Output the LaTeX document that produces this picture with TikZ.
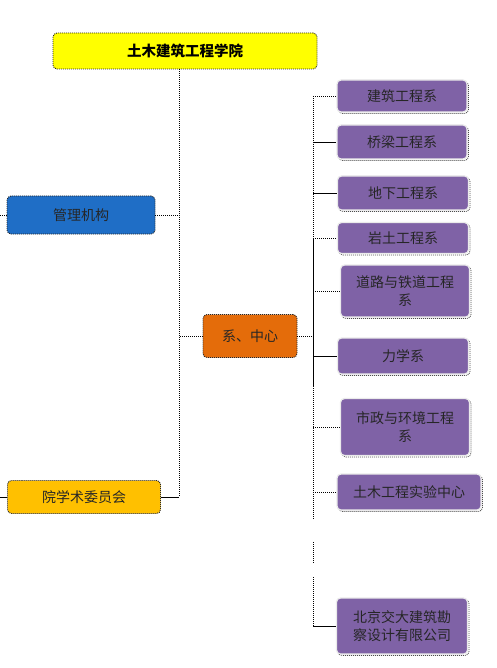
\documentclass[tikz,border=0pt]{standalone}
\usepackage{fontspec}
\newfontfamily\cjk{Noto Sans CJK SC}
\usetikzlibrary{positioning,shadows}
\definecolor{titleyellow}{HTML}{FFFF00}
\definecolor{mgmtblue}{HTML}{1F6EC6}
\definecolor{deptorange}{HTML}{E46C0A}
\definecolor{acadgold}{HTML}{FFC000}
\definecolor{unitpurple}{HTML}{7F62A6}
\tikzset{
  box/.style={draw=black!85, dash pattern=on 1pt off 1pt, line width=0.9pt,
    rounded corners=4pt, align=center, inner sep=0pt, text=black!85,
    font=\cjk\fontsize{14}{18}\selectfont},
  topbox/.style={box, fill=titleyellow, text=black,
    font=\cjk\bfseries\fontsize{14.5}{17}\selectfont},
  sidebox/.style={box},
  unit/.style={box, fill=unitpurple, draw=white!92!black, solid, line width=1.2pt,
    copy shadow={shadow xshift=1.5pt, shadow yshift=-1.5pt, fill=white,
      draw=black!70, dash pattern=on 1pt off 1pt, line width=0.8pt}},
  link/.style={draw=black, line width=0.9pt, dash pattern=on 1pt off 1pt},
  solidlink/.style={draw=black, line width=0.9pt, solid}
}
\begin{document}
\begin{tikzpicture}[x=1pt,y=-1pt]
  \useasboundingbox[fill=white] (0,0) rectangle (496,668);

  % college and its three branches
  \node[topbox, minimum width=264, minimum height=36] (college) at (185,51) {土木建筑工程学院};
  \node[sidebox, fill=mgmtblue, minimum width=148, minimum height=38] (mgmt) at (81,215) {管理机构};
  \node[sidebox, fill=deptorange, minimum width=94, minimum height=43] (depts) at (250,336) {系、中心};
  \node[sidebox, fill=acadgold, minimum width=153, minimum height=33] (acad) at (84,497) {院学术委员会};

  \coordinate (spine) at (179,0);
  \coordinate (bus) at (313,0);

  \draw[link] (college.south -| spine) -- (acad.east -| spine);
  \draw[solidlink] (acad.east -| spine) -- (acad.east);
  \draw[link] (mgmt.east) -- (mgmt.east -| spine);
  \draw[link] (depts.west) -- (depts.west -| spine);
  \draw[link] (mgmt.west) -- ++(-7,0);
  \draw[solidlink] (acad.west) -- ++(-7,0);

  % departments and centres
  \node[unit, minimum width=130, minimum height=32] (u1) at (402,96) {建筑工程系};
  \node[unit, minimum width=130, minimum height=34] (u2) at (402,142) {桥梁工程系};
  \node[unit, minimum width=131, minimum height=34] (u3) at (403,193) {地下工程系};
  \node[unit, minimum width=131, minimum height=31] (u4) at (403,238) {岩土工程系};
  \node[unit, minimum width=129, minimum height=52] (u5) at (405,291) {道路与铁道工程\\系};
  \node[unit, minimum width=131, minimum height=36] (u6) at (403,356) {力学系};
  \node[unit, minimum width=129, minimum height=57] (u7) at (405,427) {市政与环境工程\\系};
  \node[unit, minimum width=144, minimum height=36] (u8) at (409,492) {土木工程实验中心};
  \node[unit, minimum width=131, minimum height=56] (u9) at (402,626) {北京交大建筑勘\\察设计有限公司};

  \draw[link] (depts.east) -- (depts.east -| bus);
  \draw[link] (u1.west -| bus) -- (u4.west -| bus);
  \draw[solidlink] (u4.west -| bus) -- ([yshift=-30pt]u6.west -| bus);
  \draw[link] ([yshift=-30pt]u6.west -| bus) -- ([yshift=-28pt]u8.west -| bus);
  \draw[link] ([yshift=84pt]u9.west -| bus) -- ([yshift=63pt]u9.west -| bus);
  \draw[link] ([yshift=49pt]u9.west -| bus) -- (u9.west -| bus);
  \foreach \u/\kind in {u1/link, u2/solidlink, u3/solidlink, u4/link, u5/link,
                        u6/solidlink, u7/link, u8/link, u9/solidlink}
    \draw[\kind] (\u.west -| bus) -- (\u.west);
\end{tikzpicture}
\end{document}
